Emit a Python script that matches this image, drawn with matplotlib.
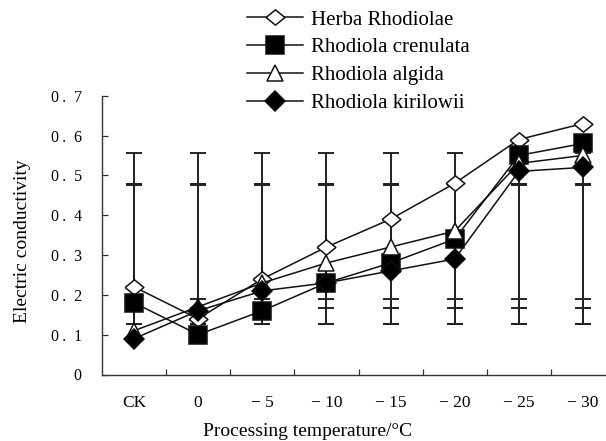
import numpy as np
import matplotlib
matplotlib.use("Agg")
import matplotlib.pyplot as plt

plt.rcParams['font.family'] = ['Liberation Serif', 'DejaVu Serif']

categories = ["CK", "0", "\u2212 5", "\u2212 10", "\u2212 15", "\u2212 20", "\u2212 25", "\u2212 30"]
names = ["Herba Rhodiolae", "Rhodiola crenulata", "Rhodiola algida", "Rhodiola kirilowii"]

herba = [0.22, 0.14, 0.24, 0.32, 0.39, 0.48, 0.59, 0.63]
crenulata = [0.18, 0.10, 0.16, 0.23, 0.28, 0.34, 0.55, 0.58]
algida = [0.11, 0.17, 0.23, 0.28, 0.32, 0.36, 0.53, 0.55]
kirilowii = [0.09, 0.16, 0.21, 0.23, 0.26, 0.29, 0.51, 0.52]

# error bar ends (one pair per series)
err_low = [0.190, 0.126, 0.166, 0.126]
err_high = [0.556, 0.479, 0.479, 0.477]

yticks = [0, 0.1, 0.2, 0.3, 0.4, 0.5, 0.6, 0.7]
ytick_labels = ["0", "0\u2009.  1", "0\u2009.  2", "0\u2009.  3", "0\u2009.  4",
                "0\u2009.  5", "0\u2009.  6", "0\u2009.  7"]

open_diamond = [(-1, 0), (0, 0.82), (1, 0), (0, -0.82), (-1, 0)]
styles = [
    dict(marker=open_diamond, ms=13.5, mfc="white"),
    dict(marker="s", ms=12.5, mfc="black"),
    dict(marker="^", ms=12, mfc="white"),
    dict(marker="D", ms=10, mfc="black"),
]

fig = plt.figure(figsize=(6.06, 4.41), dpi=100)
ax = fig.add_axes([102 / 606, (441 - 374.5) / 441, 513 / 606, (374.5 - 95.7) / 441])

x = np.arange(len(categories))
series = [herba, crenulata, algida, kirilowii]

# error bars sit under the lines
for lo, hi in zip(err_low, err_high):
    mid = (lo + hi) / 2
    ax.errorbar(x, np.full(len(x), mid), yerr=(hi - lo) / 2, fmt="none",
                ecolor="#222222", elinewidth=1.4, capsize=5.8, capthick=1.4, zorder=1)

handles = []
for vals, name, st in zip(series, names, styles):
    h, = ax.plot(x, vals, color="#111111", lw=1.1, mec="#111111", mew=1.1,
                 label=name, zorder=3, **st)
    handles.append(h)

ax.set_xlim(-0.5, 7.5)
ax.set_ylim(0, 0.7)
ax.set_yticks(yticks)
ax.set_yticklabels(ytick_labels, fontsize=11.5)
ax.set_xticks(x)
ax.set_xticklabels(categories, fontsize=12.5)
ax.set_xticks(np.arange(0.5, 7, 1), minor=True)
ax.tick_params(axis="x", which="major", length=0, pad=15)
ax.tick_params(axis="x", which="minor", length=4, width=0.9, direction="in", color="#333333")
ax.tick_params(axis="y", length=4, width=0.9, direction="in", pad=14.5, color="#333333")

for s in ["top", "right"]:
    ax.spines[s].set_visible(False)
for s in ["left", "bottom"]:
    ax.spines[s].set_color("#333333")
    ax.spines[s].set_linewidth(1.0)

fig.text(308 / 606, 1 - 431 / 441, "Processing temperature/\u00b0C", ha="center", va="center", fontsize=14)
fig.text(23 / 606, 1 - 241 / 441, "Electric conductivity", ha="center", va="center",
         rotation=90, fontsize=14)

fig.legend(handles, names, loc="upper left", bbox_to_anchor=(247 / 606, 1 - 10 / 441),
           frameon=False, borderpad=0, borderaxespad=0, handlelength=2.7,
           handletextpad=0.35, labelspacing=0.4, prop=dict(size=15))

fig.savefig("out.png", dpi=100)
